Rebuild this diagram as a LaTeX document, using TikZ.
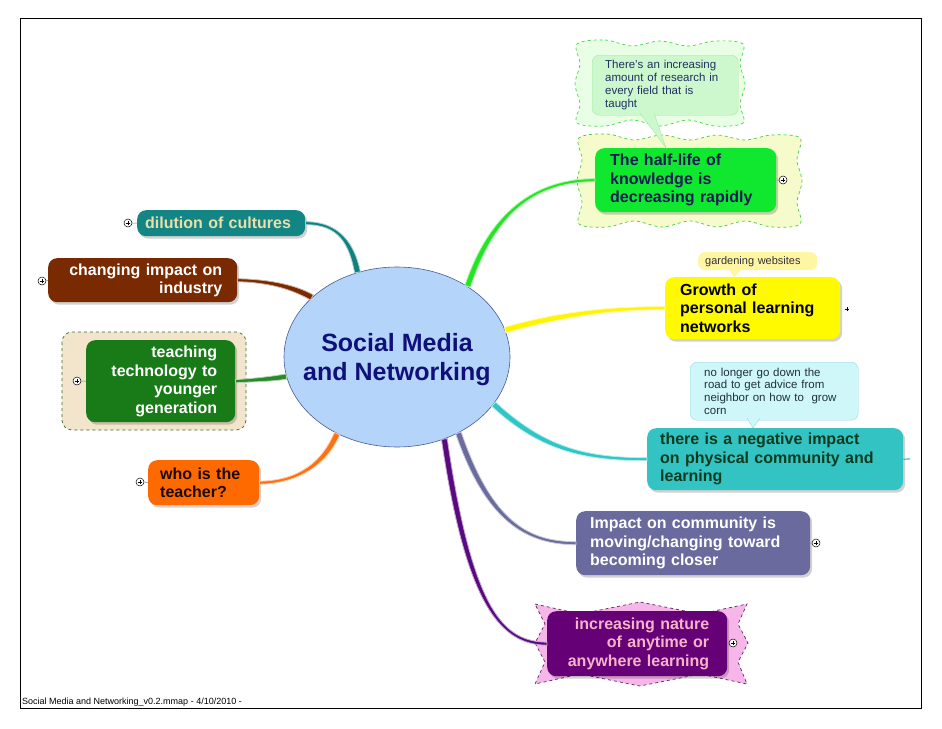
\documentclass[tikz,border=0pt]{standalone}
\usepackage{fontspec}
\setmainfont{Liberation Sans}
\usetikzlibrary{shapes.geometric,shadows,calc}
\definecolor{cHalf}{HTML}{10E830}
\definecolor{cNavy}{HTML}{1A1A55}
\definecolor{cYel}{HTML}{FFFA00}
\definecolor{cTeal}{HTML}{33C3C3}
\definecolor{cTealT}{HTML}{0B3A1E}
\definecolor{cSlate}{HTML}{6A6A9E}
\definecolor{cPurp}{HTML}{660077}
\definecolor{cPink}{HTML}{F5B3C8}
\definecolor{cDil}{HTML}{148585}
\definecolor{cTanT}{HTML}{E9DFAA}
\definecolor{cBrown}{HTML}{7A2A00}
\definecolor{cGreenD}{HTML}{187B18}
\definecolor{cOrange}{HTML}{FF6A00}
\definecolor{cOrangeT}{HTML}{1A0A00}
\definecolor{lGreen}{HTML}{22E622}
\definecolor{lYel}{HTML}{FFF500}
\definecolor{lTeal}{HTML}{2EC6C6}
\definecolor{lSlate}{HTML}{6B6B9E}
\definecolor{lPurp}{HTML}{5A0A80}
\definecolor{lDil}{HTML}{138080}
\definecolor{lBrown}{HTML}{7A2A00}
\definecolor{lGreenD}{HTML}{2A8A2A}
\definecolor{lOrange}{HTML}{FF7010}
\definecolor{cEll}{HTML}{B4D4FA}
\definecolor{cEllB}{HTML}{4A5A9A}
\definecolor{cEllT}{HTML}{10107A}
\definecolor{wGF}{HTML}{E9FFE5}
\definecolor{wGB}{HTML}{3ED83E}
\definecolor{wYF}{HTML}{F6FBCB}
\definecolor{wYB}{HTML}{44CC44}
\definecolor{bGF}{HTML}{CDF7CD}
\definecolor{bGB}{HTML}{A9E6A9}
\definecolor{bGT}{HTML}{203060}
\definecolor{bYF}{HTML}{FFF6A3}
\definecolor{bCF}{HTML}{CFF7FA}
\definecolor{bCB}{HTML}{8ED9E6}
\definecolor{bCT}{HTML}{203040}
\definecolor{sPF}{HTML}{F6B6EA}
\definecolor{sPB}{HTML}{5A2A5A}
\definecolor{tanF}{HTML}{F2E5CB}
\definecolor{tanB}{HTML}{3A6A3A}
% tapered curved connector: colour, start, control1, control2, end, half-width at start, half-width at end
\newcommand\taperconn[7]{%
  \filldraw[fill=#1, draw=#1!35, line width=0.8pt]
    ($(#2)!#6!90:(#3)$) .. controls ($(#3)!#6!-90:(#2)$) and ($(#4)!#7!90:(#5)$) .. ($(#5)!#7!-90:(#4)$)
    -- ($(#5)!#7!90:(#4)$) .. controls ($(#4)!#7!-90:(#5)$) and ($(#3)!#6!90:(#2)$) .. ($(#2)!#6!-90:(#3)$)
    -- cycle;}
\begin{document}
\begin{tikzpicture}[x=1pt,y=-1pt,
  mbox/.style={rounded corners=9pt, anchor=north west, inner ysep=0pt,
    font=\fontsize{16}{18.5}\selectfont\bfseries,
    drop shadow={shadow xshift=2pt,shadow yshift=-2.5pt,fill=black,opacity=0.18}},
  bubble/.style={rounded corners=7pt, anchor=north west, inner ysep=0pt,
    font=\fontsize{11.5}{13}\selectfont, align=left},
  wavy/.style={dashed, line width=0.7pt},
  plusc/.style={circle, draw=black, fill=white, line width=0.5pt, minimum size=8pt, inner sep=0pt,
    path picture={\draw[line width=0.7pt]
      ([xshift=-2.4pt]path picture bounding box.center) -- ([xshift=2.4pt]path picture bounding box.center)
      ([yshift=-2.4pt]path picture bounding box.center) -- ([yshift=2.4pt]path picture bounding box.center);}},
  plusn/.style={plusc, draw=none},
]
\useasboundingbox (0,0) rectangle (942,728);
\fill[white] (0,0) rectangle (942,728);
\draw[line width=0.8pt] (20,18) rectangle (921,708);

% decorative backgrounds
\draw[wavy, draw=wGB, fill=wGF] plot[smooth cycle, tension=0.55] coordinates {
  (577,44) (605,40) (632,46) (660,41) (688,46) (715,41) (743,44)
  (740,64) (745,84) (740,104) (743,123)
  (715,126) (688,120) (660,126) (632,120) (605,126) (577,123)
  (580,104) (575,84) (580,64)};
\draw[wavy, draw=wYB, fill=wYF] plot[smooth cycle, tension=0.55] coordinates {
  (579,138) (607,134) (634,140) (662,135) (690,140) (717,135) (745,140) (772,135) (800,138)
  (797,160) (802,181) (797,202) (800,224)
  (772,227) (745,221) (717,227) (690,221) (662,227) (634,221) (607,227) (579,224)
  (582,202) (577,181) (582,160)};
\draw[dashed, draw=tanB, fill=tanF, rounded corners=10pt, line width=0.7pt] (62,332) rectangle (246,430);
\draw[dashed, draw=sPB, fill=sPF, line width=0.7pt]
  (535,604) -- (580,614) -- (640,602) -- (700,614) -- (747,604) -- (738,624) -- (748,643)
  -- (738,662) -- (747,684) -- (700,674) -- (640,686) -- (580,674) -- (535,684)
  -- (545,662) -- (535,643) -- (545,624) -- cycle;

% central topic
\node[ellipse, draw=cEllB, line width=0.6pt, fill=cEll, minimum width=226pt, minimum height=180pt,
  inner sep=0pt] (c) at (397,357) {};

% topics
\node[mbox, fill=cHalf, text=cNavy, minimum width=181pt, minimum height=64pt, inner xsep=15pt,
  text width=151pt, align=left] (half) at (595,148) {The half-life of\\knowledge is\\decreasing rapidly};
\node[mbox, fill=cYel, text=black, minimum width=175pt, minimum height=62pt, inner xsep=15pt,
  text width=145pt, align=left] (growth) at (665,277) {Growth of\\personal learning\\networks};
\node[mbox, fill=cTeal, text=cTealT, minimum width=256pt, minimum height=62pt, inner xsep=13pt,
  text width=230pt, align=left] (neg) at (647,428) {there is a negative impact\\on physical community and\\learning};
\node[mbox, fill=cSlate, text=white, minimum width=234pt, minimum height=64pt, inner xsep=14pt,
  text width=206pt, align=left] (impact) at (576,511) {Impact on community is\\moving/changing toward\\becoming closer};
\node[mbox, fill=cPurp, text=cPink, minimum width=180pt, minimum height=65pt, inner xsep=18pt,
  text width=144pt, align=right] (incr) at (547,611) {increasing nature\\of anytime or\\anywhere learning};
\node[mbox, fill=cDil, text=cTanT, minimum width=168pt, minimum height=26pt, inner xsep=8pt,
  text width=152pt, align=left] (dil) at (137,210) {dilution of cultures};
\node[mbox, fill=cBrown, text=white, minimum width=189pt, minimum height=44pt, inner xsep=15pt,
  text width=159pt, align=right] (ind) at (48,258) {changing impact on\\industry};
\node[mbox, fill=cGreenD, text=white, minimum width=149pt, minimum height=82pt, inner xsep=18pt,
  text width=113pt, align=right] (teach) at (86,340) {teaching\\technology to\\younger\\generation};
\node[mbox, fill=cOrange, text=cOrangeT, minimum width=111pt, minimum height=45pt, inner xsep=12pt,
  text width=87pt, align=left] (who) at (148,460) {who is the\\teacher?};

% connectors (tapered: thick at the central topic)
\taperconn{lGreen}{c.45}{488,225}{525,180}{half.west}{2.9pt}{1.5pt}
\taperconn{lYel}{c.14}{565,313}{615,308}{growth.west}{2.9pt}{1.5pt}
\taperconn{lTeal}{c.-26}{545,452}{590,459}{neg.west}{2.9pt}{1.5pt}
\taperconn{lSlate}{c.-51}{490,525}{530,543}{impact.west}{2.9pt}{1.5pt}
\taperconn{lPurp}{c.-60}{470,615}{505,643}{incr.west}{2.9pt}{1.5pt}
\taperconn{lDil}{dil.east}{340,223}{352,245}{c.115}{1.5pt}{2.9pt}
\taperconn{lBrown}{ind.east}{272,281}{295,288}{c.145}{1.5pt}{2.9pt}
\taperconn{lGreenD}{teach.east}{255,380}{272,379}{c.190}{1.6pt}{2.6pt}
\taperconn{lOrange}{who.east}{300,482}{325,462}{c.232}{1.5pt}{2.9pt}
\coordinate (stub) at (910,459);
\draw[lTeal, line width=1.2pt] (neg.east) -- (stub);

% central text on top
\node[align=center, text=cEllT, font=\fontsize{25}{29}\selectfont\bfseries, inner sep=0pt]
  (ct) at ([yshift=-3pt]c.center) {Social Media\\and Networking};

% callouts
\node[bubble, fill=bGF, draw=bGB, minimum width=146pt, minimum height=60pt, inner xsep=13pt,
  text width=120pt, text=bGT] (cb1) at (592,55) {There's an increasing\\amount of research in\\every field that is\\taught};
\filldraw[fill=bGF, draw=bGB] (640,113) -- (666,148) -- (654,113);
\node[bubble, fill=bYF, minimum width=119pt, minimum height=18pt, inner xsep=7pt,
  text width=105pt, font=\fontsize{11}{13}\selectfont, text=black!80] (cb2) at (698,252) {gardening websites};
\fill[bYF] (729,269) -- (734,277) -- (742,269);
\node[bubble, fill=bCF, draw=bCB, minimum width=168pt, minimum height=58pt, inner xsep=14pt,
  text width=140pt, font=\fontsize{11.5}{12.7}\selectfont, text=bCT] (cb3) at (690,362)
  {no longer go down the\\road to get advice from\\neighbor on how to\ \ grow\\corn};
\filldraw[fill=bCF, draw=bCB] (747,418) -- (753,428) -- (760,418);

% expand markers
\node[plusc] (p1) at (783,180) {};
\node[plusn] (p2) at (847,309) {};
\node[plusc] (p3) at (816,543) {};
\node[plusc] (p4) at (733,643) {};
\node[plusc] (p5) at (128,223) {};
\node[plusc] (p6) at (42,281) {};
\node[plusc] (p7) at (77,381) {};
\node[plusc] (p8) at (140,482) {};
\draw[gray, line width=0.5pt] (half.east) -- (p1.west);
\draw[gray, line width=0.5pt] (impact.east) -- (p3.west);
\draw[gray, line width=0.5pt] (incr.east) -- (p4.west);
\draw[gray, line width=0.5pt] (p5.east) -- (dil.west);
\draw[gray, line width=0.5pt] (p6.east) -- (ind.west);
\draw[gray, line width=0.5pt] (p7.east) -- (teach.west);
\draw[gray, line width=0.5pt] (p8.east) -- (who.west);

\node[anchor=base west, font=\fontsize{9}{10}\selectfont, inner sep=0pt] (foot) at (22,704)
  {Social Media and Networking\_v0.2.mmap - 4/10/2010 -};
\end{tikzpicture}
\end{document}
